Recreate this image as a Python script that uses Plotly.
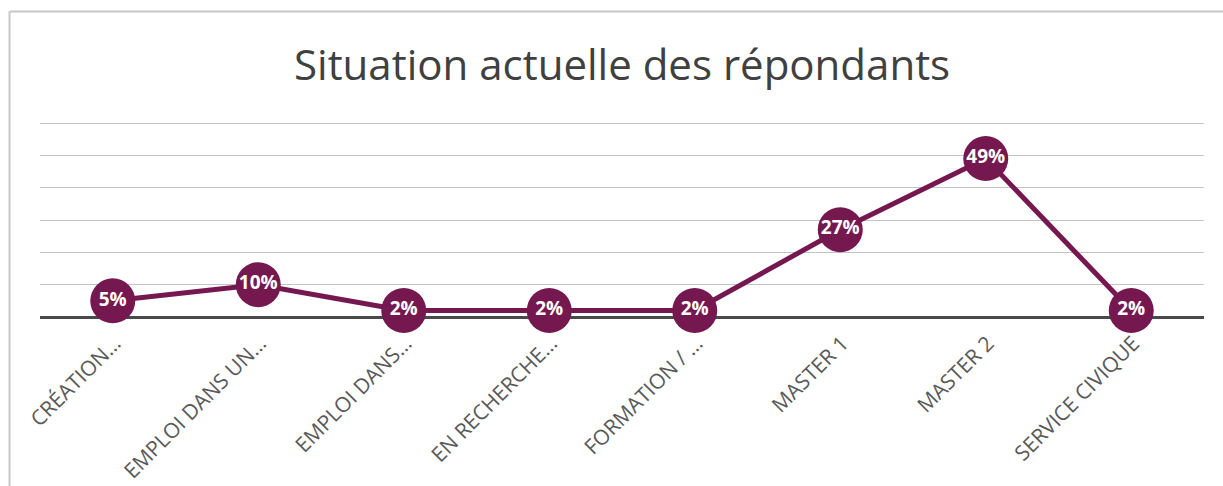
import plotly.graph_objects as go

categories = ["CRÉATION…", "EMPLOI DANS UN…", "EMPLOI DANS…", "EN RECHERCHE…",
              "FORMATION / …", "MASTER 1", "MASTER 2", "SERVICE CIVIQUE"]
values = [5, 10, 2, 2, 2, 27, 49, 2]
labels = ["5%", "10%", "2%", "2%", "2%", "27%", "49%", "2%"]

W, H = 1223, 486
BASE_Y = 317          # pixel row of 0%
TOP60 = 123           # pixel row of 60%
L, R, T = 40, 19, 121
B = H - BASE_Y
pw, ph = W - L - R, BASE_Y - T
ppu = (BASE_Y - TOP60) / 60.0
ymax = ph / ppu

color = "#761850"

fig = go.Figure()
fig.add_trace(go.Scatter(
    x=categories, y=values, mode="lines+markers+text",
    line=dict(color=color, width=5),
    marker=dict(color=color, size=45, line=dict(width=0)),
    text=labels, textposition="middle center",
    textfont=dict(color="white", size=19, family="Open Sans", weight="bold"),
    cliponaxis=False, hoverinfo="skip",
))

fig.update_layout(
    width=W, height=H,
    margin=dict(l=L, r=R, t=T, b=B, pad=0, autoexpand=False),
    paper_bgcolor="white", plot_bgcolor="white",
    showlegend=False,
    font=dict(family="Open Sans", color="#595959"),
    xaxis=dict(showgrid=False, tickangle=-45, ticks="", zeroline=False,
               showline=False, ticklabelshift=2, ticklabelstandoff=9,
               automargin=False,
               tickfont=dict(size=21, color="#595959", family="Open Sans"),
               range=[-0.5, 7.5]),
    yaxis=dict(range=[0, ymax], dtick=10, showticklabels=False,
               showgrid=True, gridcolor="#c4c4c4", gridwidth=1.3,
               zeroline=True, zerolinecolor="#4a4a4a", zerolinewidth=3,
               automargin=False, fixedrange=True),
    annotations=[dict(text="Situation actuelle des répondants",
                      xref="paper", yref="paper", x=0.5, y=(BASE_Y - 64) / ph,
                      xanchor="center", yanchor="middle", showarrow=False,
                      font=dict(size=42, color="#404040", family="Open Sans"))],
    shapes=[
        dict(type="line", xref="paper", yref="paper",
             x0=(9.5 - L) / pw, x1=(9.5 - L) / pw,
             y0=(BASE_Y - 11.5) / ph, y1=(BASE_Y - 490) / ph,
             line=dict(color="#c8c8c8", width=2)),
        dict(type="line", xref="paper", yref="paper",
             x0=(9.5 - L) / pw, x1=(1230 - L) / pw,
             y0=(BASE_Y - 11.5) / ph, y1=(BASE_Y - 11.5) / ph,
             line=dict(color="#c8c8c8", width=2)),
    ],
)

fig.write_html("out.html", config={"displayModeBar": False},
               post_script="document.body.style.margin='0';document.body.style.overflow='hidden';")
